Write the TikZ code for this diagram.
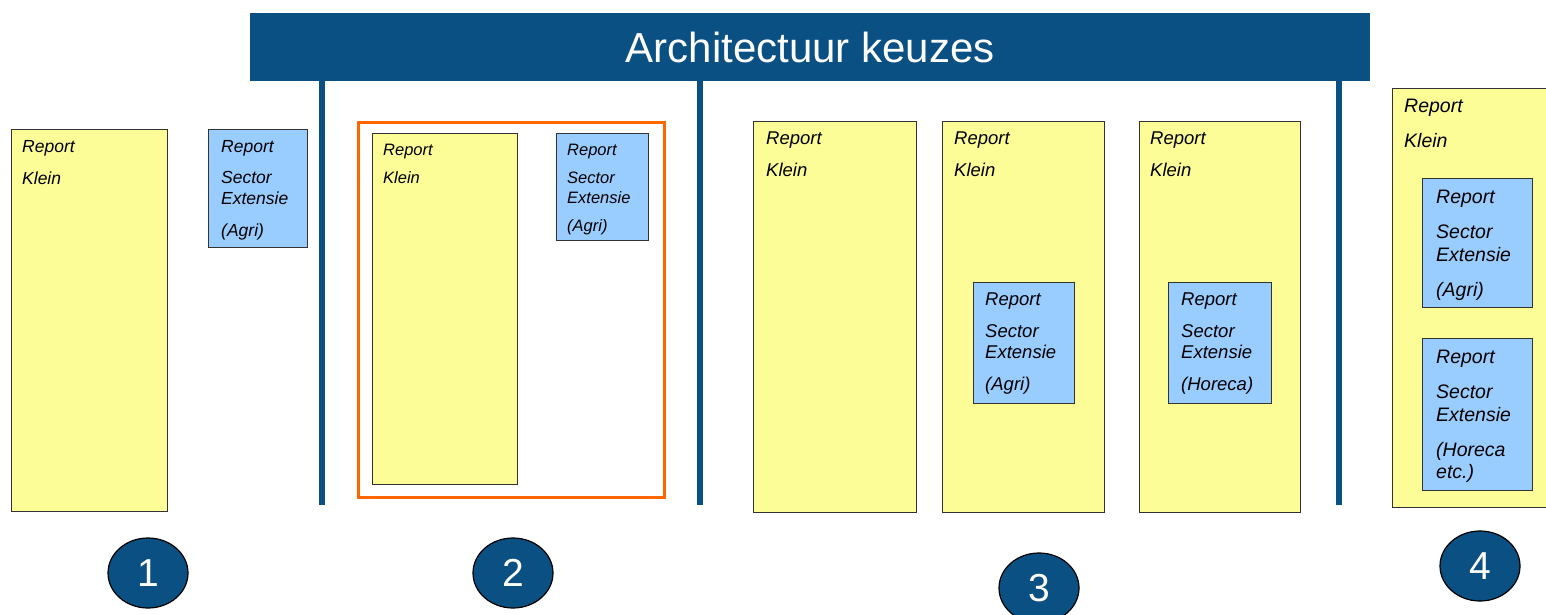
\documentclass[tikz,border=0pt]{standalone}
\usepackage{fontspec}
\setmainfont{Liberation Sans}
\usetikzlibrary{positioning,shapes.geometric}
\definecolor{kopblauw}{HTML}{0A5082}
\definecolor{geel}{HTML}{FDFD98}
\definecolor{lichtblauw}{HTML}{99CCFF}
\definecolor{oranje}{HTML}{FF6600}
\begin{document}
\begin{tikzpicture}[x=1pt,y=-1pt]

      \useasboundingbox (0,0) rectangle (1546,615);

      % titelbalk en scheidingslijnen
      \node[fill=kopblauw, text=white, minimum width=1120pt, minimum height=68pt,
        anchor=north west, inner sep=0pt, font=\fontsize{42}{46}\selectfont] (titel) at (250,13) {Architectuur keuzes};
      \begin{scope}[line width=6pt, draw=kopblauw]
        \coordinate (s1) at (322,505);
        \coordinate (s2) at (700,505);
        \coordinate (s3) at (1339,505);
        \draw[kopblauw] (titel.south west -| s1) -- (s1);
        \draw[kopblauw] (titel.south west -| s2) -- (s2);
        \draw[kopblauw] (titel.south west -| s3) -- (s3);
      \end{scope}

      % kader rond keuze 2
      \node[draw=oranje, line width=3pt, minimum width=306pt, minimum height=375pt,
        anchor=north west, inner sep=0pt] (kader) at (357,121) {};

      % vlakken
      \begin{scope}[every node/.style={draw=black!80, line width=.8pt, anchor=north west, inner sep=0pt}]
        \node[fill=geel, minimum width=156pt, minimum height=382pt] (k1) at (11,129) {};
        \node[fill=lichtblauw, minimum width=99pt, minimum height=118pt] (e1) at (208,129) {};
        \node[fill=geel, minimum width=145pt, minimum height=351pt] (k2) at (372,133) {};
        \node[fill=lichtblauw, minimum width=92pt, minimum height=107pt] (e2) at (556,133) {};
        \node[fill=geel, minimum width=163pt, minimum height=391pt] (k3a) at (753,121) {};
        \node[fill=geel, minimum width=162pt, minimum height=391pt] (k3b) at (942,121) {};
        \node[fill=geel, minimum width=161pt, minimum height=391pt] (k3c) at (1139,121) {};
        \node[fill=lichtblauw, minimum width=101pt, minimum height=121pt] (e3b) at (973,282) {};
        \node[fill=lichtblauw, minimum width=103pt, minimum height=121pt] (e3c) at (1168,282) {};
        \node[fill=geel, minimum width=160pt, minimum height=419pt] (k4) at (1392,88) {};
        \node[fill=lichtblauw, minimum width=110pt, minimum height=129pt] (e4a) at (1422,178) {};
        \node[fill=lichtblauw, minimum width=110pt, minimum height=152pt] (e4b) at (1422,338) {};
      \end{scope}

      % teksten keuze 1
      \begin{scope}[every node/.style={anchor=base west, inner sep=0pt, font=\fontsize{17.5}{20}\selectfont\itshape}]
        \node (k1r) at (22,152) {Report};
        \node (k1k) at (22,184) {Klein};
        \node (e1r) at (221,152) {Report};
        \node (e1s) at (221,183) {Sector};
        \node (e1e) at (221,204) {Extensie};
        \node (e1a) at (221,236) {(Agri)};
      \end{scope}

      % teksten keuze 2
      \begin{scope}[every node/.style={anchor=base west, inner sep=0pt, font=\fontsize{16.5}{19}\selectfont\itshape}]
        \node (k2r) at (383,155) {Report};
        \node (k2k) at (383,183) {Klein};
        \node (e2r) at (567,155) {Report};
        \node (e2s) at (567,183) {Sector};
        \node (e2e) at (567,203) {Extensie};
        \node (e2a) at (567,231) {(Agri)};
      \end{scope}

      % teksten keuze 3
      \begin{scope}[every node/.style={anchor=base west, inner sep=0pt, font=\fontsize{18.5}{21}\selectfont\itshape}]
        \node (k3ar) at (766,144) {Report};
        \node (k3ak) at (766,176) {Klein};
        \node (k3br) at (954,144) {Report};
        \node (k3bk) at (954,176) {Klein};
        \node (k3cr) at (1150,144) {Report};
        \node (k3ck) at (1150,176) {Klein};
        \node (e3br) at (985,305) {Report};
        \node (e3bs) at (985,337) {Sector};
        \node (e3be) at (985,358) {Extensie};
        \node (e3ba) at (985,390) {(Agri)};
        \node (e3cr) at (1181,305) {Report};
        \node (e3cs) at (1181,337) {Sector};
        \node (e3ce) at (1181,358) {Extensie};
        \node (e3ca) at (1181,390) {(Horeca)};
      \end{scope}

      % teksten keuze 4
      \begin{scope}[every node/.style={anchor=base west, inner sep=0pt, font=\fontsize{19.5}{22}\selectfont\itshape}]
        \node (k4r) at (1404,113) {Report};
        \node (k4k) at (1404,147) {Klein};
        \node (e4ar) at (1436,203) {Report};
        \node (e4as) at (1436,238) {Sector};
        \node (e4ae) at (1436,261) {Extensie};
        \node (e4aa) at (1436,296) {(Agri)};
        \node (e4br) at (1436,363) {Report};
        \node (e4bs) at (1436,398) {Sector};
        \node (e4be) at (1436,421) {Extensie};
        \node (e4bh) at (1436,456) {(Horeca};
        \node (e4bt) at (1436,478) {etc.)};
      \end{scope}

      % nummers
      \begin{scope}[every node/.style={ellipse, draw=black, line width=1.2pt, fill=kopblauw, text=white,
          minimum width=80pt, minimum height=70pt, inner sep=0pt, font=\fontsize{39}{42}\selectfont}]
        \node (n1) at (148,573) {1};
        \node (n2) at (513,573) {2};
        \node (n3) at (1039,588) {3};
        \node (n4) at (1480,566) {4};
      \end{scope}

    \end{tikzpicture}
\end{document}
